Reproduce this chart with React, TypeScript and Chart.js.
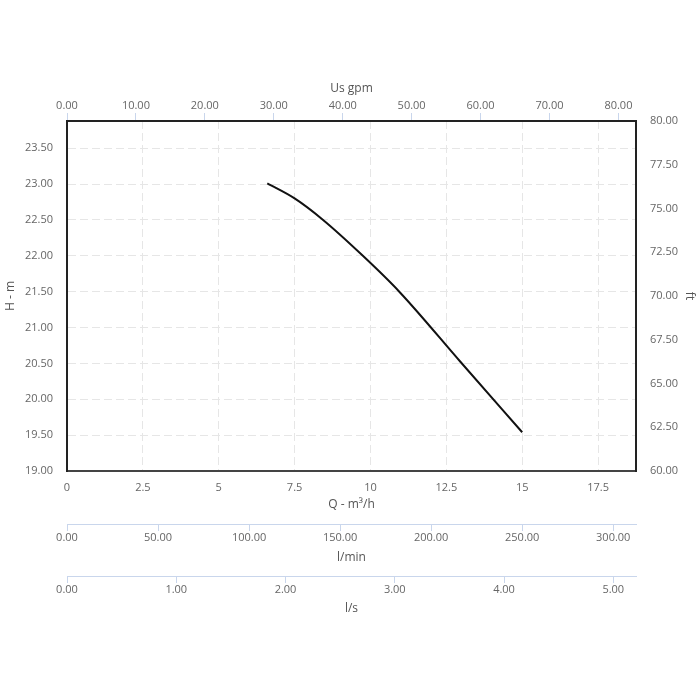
import React, { useEffect, useRef } from "react";
import { Chart, registerables } from "chart.js";

Chart.register(...registerables);

// Pump curve: flow (m³/h) vs head (m)
const flowM3h = [6.6, 7.5, 8.41, 9.75, 10.95, 12.97, 15.0];
const headM = [23.01, 22.8, 22.51, 22.0, 21.5, 20.52, 19.54];

// Axis ranges (secondary axes are unit conversions of the main flow / head range)
const qRange = [0, 18.75];
const gpmRange = [0, 82.55];
const lminRange = [0, 312.5];
const lsRange = [0, 5.208];
const hRange = [19, 23.88];
const ftRange = [60, 80];

// Tick steps
const qStep = 2.5;
const gpmStep = 10;
const lminStep = 50;
const lsStep = 1;
const hStep = 0.5;
const ftStep = 2.5;

const FONT = "'Open Sans', sans-serif";
const tickFont = { family: FONT, size: 11 };
const titleFont = { family: FONT, size: 12 };
const TICK = "#666";
const TITLE = "#555";
const GRID = "#e6e6e6";
const BLUE = "#c9d6ec";
const DARK = "#222";

const fix2 = (v: any) => Number(v).toFixed(2);

export default function App() {
  const ref = useRef<HTMLCanvasElement | null>(null);

  useEffect(() => {
    if (!ref.current) return;
    const chart = new Chart(ref.current, {
      type: "line",
      data: {
        datasets: [
          {
            data: flowM3h.map((q, i) => ({ x: q, y: headM[i] })),
            borderColor: "#111",
            borderWidth: 2,
            pointRadius: 0,
            cubicInterpolationMode: "monotone",
            fill: false,
            xAxisID: "x",
            yAxisID: "y",
          },
        ],
      },
      options: {
        responsive: false,
        animation: false,
        layout: { padding: { top: 70, bottom: 73, left: 0, right: 0 } },
        plugins: { legend: { display: false }, tooltip: { enabled: false } },
        scales: {
          x: {
            type: "linear",
            position: "bottom",
            weight: 0,
            min: qRange[0],
            max: qRange[1],
            ticks: {
              stepSize: qStep,
              includeBounds: false,
              callback: (v: any) => String(v),
              font: tickFont,
              color: TICK,
              padding: 10,
            },
            grid: { color: GRID, drawTicks: false },
            border: { display: true, color: "#444", width: 2, dash: [8, 4] },
            title: {
              display: true,
              text: "Q - m³/h",
              font: titleFont,
              color: TITLE,
              padding: { top: 0, bottom: 12 },
            },
            afterFit: (s: any) => {
              s.height = 53;
            },
          },
          lmin: {
            type: "linear",
            axis: "x",
            position: "bottom",
            weight: 1,
            min: lminRange[0],
            max: lminRange[1],
            ticks: {
              stepSize: lminStep,
              includeBounds: false,
              callback: fix2,
              font: tickFont,
              color: TICK,
              padding: 0,
            },
            grid: { drawOnChartArea: false, drawTicks: true, tickLength: 7, color: BLUE },
            border: { display: true, color: BLUE, width: 1 },
            title: {
              display: true,
              text: "l/min",
              font: titleFont,
              color: TITLE,
              padding: { top: 0, bottom: 11 },
            },
            afterFit: (s: any) => {
              s.height = 52;
            },
          },
          ls: {
            type: "linear",
            axis: "x",
            position: "bottom",
            weight: 2,
            min: lsRange[0],
            max: lsRange[1],
            ticks: {
              stepSize: lsStep,
              includeBounds: false,
              callback: fix2,
              font: tickFont,
              color: TICK,
              padding: 0,
            },
            grid: { drawOnChartArea: false, drawTicks: true, tickLength: 7, color: BLUE },
            border: { display: true, color: BLUE, width: 1 },
            title: {
              display: true,
              text: "l/s",
              font: titleFont,
              color: TITLE,
              padding: { top: 0, bottom: 11 },
            },
            afterFit: (s: any) => {
              s.height = 51;
            },
          },
          gpm: {
            type: "linear",
            axis: "x",
            position: "top",
            min: gpmRange[0],
            max: gpmRange[1],
            ticks: {
              stepSize: gpmStep,
              includeBounds: false,
              callback: fix2,
              font: tickFont,
              color: TICK,
              padding: 1,
            },
            grid: { drawOnChartArea: false, drawTicks: true, tickLength: 8, color: BLUE },
            border: { display: true, color: DARK, width: 2 },
            title: {
              display: true,
              text: "Us gpm",
              font: titleFont,
              color: TITLE,
              padding: { top: 11, bottom: 0 },
            },
            afterFit: (s: any) => {
              s.height = 51;
            },
          },
          y: {
            type: "linear",
            position: "left",
            min: hRange[0],
            max: hRange[1],
            ticks: {
              stepSize: hStep,
              includeBounds: false,
              callback: fix2,
              font: tickFont,
              color: TICK,
              padding: 14,
            },
            grid: { color: GRID, drawTicks: false },
            border: { display: true, color: DARK, width: 2, dash: [8, 4] },
            title: {
              display: true,
              text: "H - m",
              font: titleFont,
              color: TITLE,
              padding: { top: 3, bottom: 0 },
            },
            afterFit: (s: any) => {
              s.width = 67;
            },
          },
          ft: {
            type: "linear",
            axis: "y",
            position: "right",
            min: ftRange[0],
            max: ftRange[1],
            ticks: {
              stepSize: ftStep,
              includeBounds: false,
              callback: fix2,
              font: tickFont,
              color: TICK,
              padding: 14,
            },
            grid: { drawOnChartArea: false, drawTicks: false },
            border: { display: true, color: DARK, width: 2 },
            title: {
              display: true,
              text: "ft",
              font: titleFont,
              color: TITLE,
              padding: { top: 3, bottom: 0 },
            },
            afterFit: (s: any) => {
              s.width = 64;
            },
          },
        },
      } as any,
    });
    return () => chart.destroy();
  }, []);

  return (
    <div style={{ position: "fixed", left: 0, top: 0, width: 700, height: 700, background: "#fff" }}>
      <canvas ref={ref} width={700} height={700} />
    </div>
  );
}
